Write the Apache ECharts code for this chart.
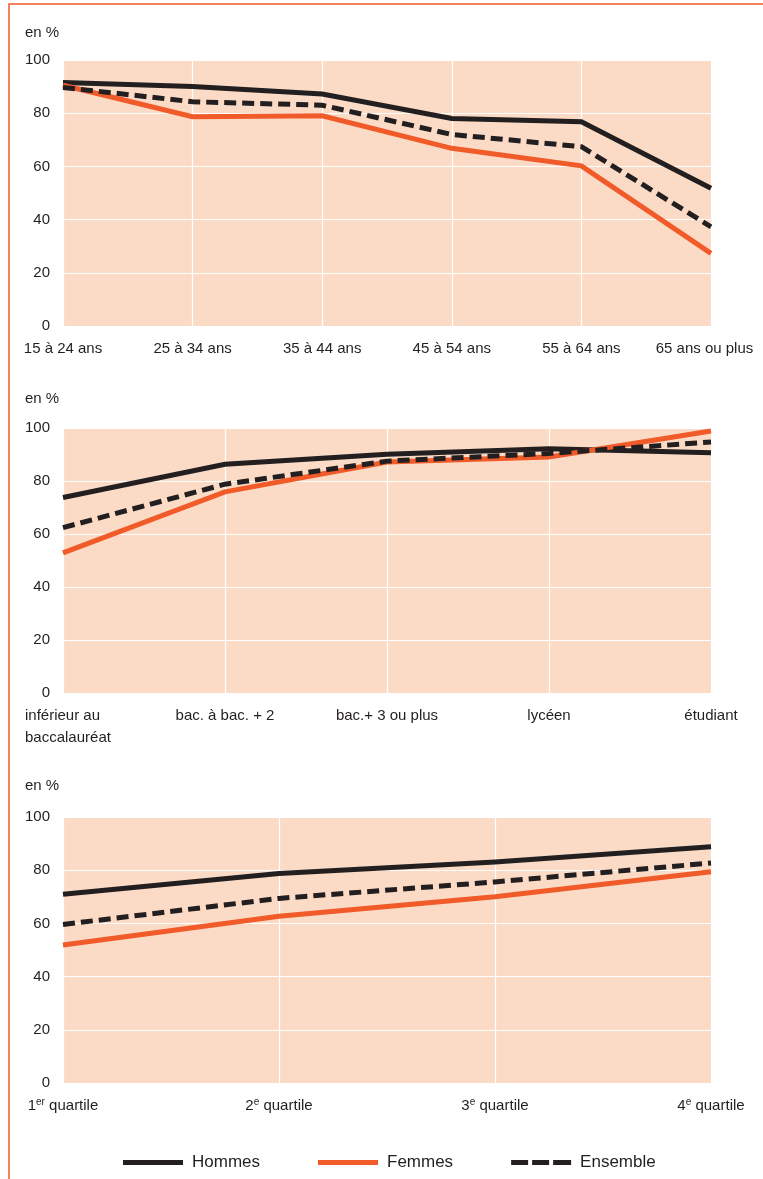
<!DOCTYPE html>
<html><head><meta charset="utf-8">
<script src="https://cdn.jsdelivr.net/npm/echarts@6/dist/echarts.min.js"></script>
<style>html,body{margin:0;padding:0;background:#fff}#c{width:763px;height:1179px}</style>
</head><body><div id="c"></div>
<script>
const seriesNames = ['Hommes', 'Femmes', 'Ensemble'];
const yTicks = [0, 20, 40, 60, 80, 100];

const ageCats = ['15 à 24 ans', '25 à 34 ans', '35 à 44 ans', '45 à 54 ans', '55 à 64 ans', '65 ans ou plus'];
const ageHommes = [91.5, 90, 87.2, 78, 76.8, 51.8];
const ageFemmes = [90.5, 78.7, 79, 66.8, 60.2, 27.3];
const ageEnsemble = [89.7, 84.3, 83, 72, 67.4, 37.3];

const diplCats = ['inférieur au\nbaccalauréat', 'bac. à bac. + 2', 'bac.+ 3 ou plus', 'lycéen', 'étudiant'];
const diplHommes = [73.8, 86.3, 90.1, 92.2, 90.7];
const diplFemmes = [52.9, 75.9, 87.2, 89.1, 98.9];
const diplEnsemble = [62.4, 78.8, 87.5, 90.4, 94.7];

const quartCats = ['1er quartile', '2e quartile', '3e quartile', '4e quartile'];
const quartHommes = [71, 78.8, 83.1, 88.8];
const quartFemmes = [51.9, 62.7, 70, 79.4];
const quartEnsemble = [59.6, 69.4, 75.6, 82.7];

const FONT = "'Liberation Sans', Arial, sans-serif";
const DARK = '#231f20';
const ORANGE = '#f15a29';
const BG = '#fcdbc6';

const panels = [
  {cats: ageCats, data: [ageHommes, ageFemmes, ageEnsemble], top: 60, height: 266, unitTop: 20, shiftLast: true},
  {cats: diplCats, data: [diplHommes, diplFemmes, diplEnsemble], top: 428, height: 265, unitTop: 386},
  {cats: quartCats, data: [quartHommes, quartFemmes, quartEnsemble], top: 817, height: 266, unitTop: 773}
];

const styles = [
  {color: DARK, width: 5, type: 'solid'},
  {color: ORANGE, width: 5, type: 'solid'},
  {color: DARK, width: 5, type: [12, 6]}
];

function makeFormatter(p) {
  return function (v, idx) {
    const m = /^(\d)(er|e) (.*)$/.exec(v);
    if (m) return '{n|' + m[1] + '}{s|' + m[2] + '}{n| ' + m[3] + '}';
    if (v.indexOf('\n') >= 0) return v.split('\n').map(t => '{l|' + t + '}').join('\n');
    if (p.shiftLast && idx === p.cats.length - 1) return '{r|' + v + '}';
    return v;
  };
}

const grid = [], xAxis = [], yAxis = [], series = [], title = [];
panels.forEach((p, i) => {
  grid.push({left: 63, right: 52, top: p.top, height: p.height, show: true,
    backgroundColor: BG, borderWidth: 0, containLabel: false, outerBoundsMode: 'none'});
  title.push({text: 'en %', left: 20, top: p.unitTop,
    textStyle: {fontFamily: FONT, fontSize: 15, fontWeight: 'normal', color: DARK}});
  xAxis.push({type: 'category', gridIndex: i, data: p.cats, boundaryGap: false,
    axisLine: {show: false}, axisTick: {show: false, interval: 0},
    splitLine: {show: true, interval: 0, lineStyle: {color: '#ffffff', width: 1.2}},
    axisLabel: {
      interval: 0, hideOverlap: false,
      margin: 12, color: DARK, fontFamily: FONT, fontSize: 15, lineHeight: 22,
      formatter: makeFormatter(p),
      rich: {
        n: {fontFamily: FONT, fontSize: 15, color: DARK},
        s: {fontFamily: FONT, fontSize: 10, color: DARK, padding: [0, 0, 8, 0]},
        l: {fontFamily: FONT, fontSize: 15, color: DARK, lineHeight: 22, width: 76, align: 'left'},
        r: {fontFamily: FONT, fontSize: 15, color: DARK, padding: [0, 13, 0, 0]}
      }
    }});
  yAxis.push({type: 'value', gridIndex: i, min: yTicks[0], max: yTicks[yTicks.length - 1], interval: 20,
    axisLine: {show: false}, axisTick: {show: false},
    splitLine: {show: true, lineStyle: {color: '#ffffff', width: 1.2}},
    axisLabel: {margin: 13, color: DARK, fontFamily: FONT, fontSize: 15}});
  seriesNames.forEach((name, k) => {
    series.push({name: name, type: 'line', xAxisIndex: i, yAxisIndex: i,
      data: p.data[k], symbol: 'none', showSymbol: false, smooth: false,
      z: 2 + k,
      itemStyle: {color: styles[k].color},
      lineStyle: {color: styles[k].color, width: styles[k].width, type: styles[k].type, cap: 'butt', join: 'miter'},
      emphasis: {disabled: true}
    });
  });
});

const chart = echarts.init(document.getElementById('c'), null, {renderer: 'canvas'});
chart.setOption({
  animation: false,
  backgroundColor: '#ffffff',
  title: title,
  grid: grid,
  xAxis: xAxis,
  yAxis: yAxis,
  series: series,
  legend: {
    data: [
      {name: 'Hommes', icon: 'rect'},
      {name: 'Femmes', icon: 'rect'},
      {name: 'Ensemble', icon: 'path://M0,0h17v5h-17z M21,0h17v5h-17z M42,0h18v5h-18z'}
    ],
    left: 118, top: 1149, itemWidth: 60, itemHeight: 5, itemGap: 58,
    textStyle: {fontFamily: FONT, fontSize: 17, color: DARK, padding: [0, 0, 0, 4]}
  },
  graphic: [{
    type: 'polyline', shape: {points: [[9, 1179], [9, 4], [763, 4]]},
    style: {stroke: ORANGE, lineWidth: 1.5, fill: null}, silent: true
  }]
});
</script></body></html>
